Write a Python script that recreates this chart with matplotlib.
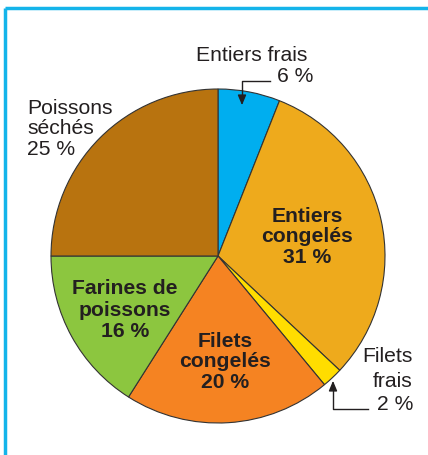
import matplotlib.pyplot as plt

plt.rcParams['font.family'] = ['Liberation Sans', 'DejaVu Sans']

W, H = 428, 456

labels = ['Entiers frais', 'Entiers congelés', 'Filets frais',
          'Filets congelés', 'Farines de poissons', 'Poissons séchés']
values = [6, 31, 2, 20, 16, 25]
colors = ['#00aeef', '#eeaa1c', '#ffdd00', '#f58322', '#8cc63f', '#b8730f']


def py(y):
    # pixel row (from top) to data y
    return H - y


fig = plt.figure(figsize=(W / 100, H / 100), dpi=100)
ax = fig.add_axes([0, 0, 1, 1])

ax.pie(values, colors=colors, startangle=90, counterclock=False,
       center=(218, py(257)), radius=167,
       wedgeprops=dict(edgecolor='#333333', linewidth=0.8))

ax.set_xlim(0, W)
ax.set_ylim(0, H)
ax.set_aspect('equal')
ax.axis('off')

# cyan frame
ax.plot([5, 5], [py(460), py(9)], color='#14b4ea', lw=2.5, solid_capstyle='butt')
ax.plot([5, 430], [py(9), py(9)], color='#14b4ea', lw=2.5, solid_capstyle='butt')

txt = '#231f20'
fs = 15.2

# Entiers frais
ax.text(252, py(55), 'Entiers frais', ha='center', va='center', fontsize=fs, color=txt)
ax.text(313, py(77), '6 %', ha='right', va='center', fontsize=fs, color=txt)
ax.plot([270, 242, 242], [py(82), py(82), py(100)], color=txt, lw=1)
ax.annotate('', xy=(242, py(109)), xytext=(242, py(99)),
            arrowprops=dict(arrowstyle='-|>,head_length=0.6,head_width=0.25', color=txt, lw=1))

# Filets frais
ax.text(413, py(357), 'Filets', ha='right', va='center', fontsize=fs, color=txt)
ax.text(413, py(382), 'frais', ha='right', va='center', fontsize=fs, color=txt)
ax.text(413, py(405), '2 %', ha='right', va='center', fontsize=fs, color=txt)
ax.plot([368, 333, 333], [py(410), py(410), py(388)], color=txt, lw=1)
ax.annotate('', xy=(333, py(379)), xytext=(333, py(389)),
            arrowprops=dict(arrowstyle='-|>,head_length=0.6,head_width=0.25', color=txt, lw=1))

# Poissons séchés
ax.text(27, py(129), 'Poissons\nséchés\n25 %', ha='left', va='center',
        fontsize=fs, color=txt, linespacing=1.1)

# bold inner labels
ax.text(307, py(237), 'Entiers\ncongelés\n31 %', ha='center', va='center',
        fontsize=fs, fontweight='bold', color=txt, linespacing=1.1)
ax.text(225, py(362), 'Filets\ncongelés\n20 %', ha='center', va='center',
        fontsize=fs, fontweight='bold', color=txt, linespacing=1.1)
ax.text(125, py(310), 'Farines de\npoissons\n16 %', ha='center', va='center',
        fontsize=fs, fontweight='bold', color=txt, linespacing=1.17)

fig.savefig('out.png', dpi=100)
